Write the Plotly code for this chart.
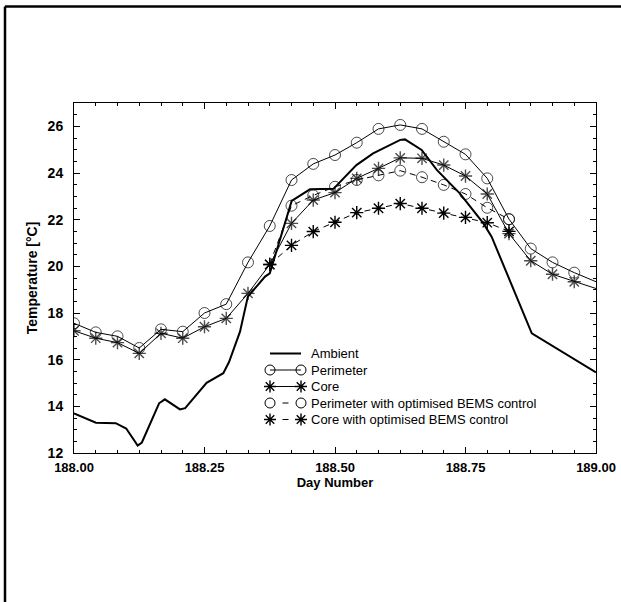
import plotly.graph_objects as go

# ---- data ----
hours = list(range(24))
day_markers = [188 + h / 24 for h in hours]
day_end = 189.0

perimeter = [17.56, 17.17, 17.00, 16.50, 17.30, 17.20, 18.00, 18.38, 20.17, 21.73,
             23.70, 24.39, 24.77, 25.30, 25.89, 26.06, 25.89, 25.34, 24.80, 23.77,
             22.02, 20.76, 20.17, 19.73]
perimeter_end = 19.34

core = [17.24, 16.92, 16.73, 16.27, 17.13, 16.92, 17.41, 17.77, 18.84, 20.08,
        21.84, 22.84, 23.16, 23.77, 24.20, 24.65, 24.63, 24.34, 23.87, 23.10,
        21.40, 20.24, 19.66, 19.34]
core_end = 19.05

opt_hours = list(range(9, 21))
perimeter_opt = [20.10, 22.60, 23.04, 23.41, 23.70, 23.90, 24.10, 23.82, 23.49, 23.10,
                 22.51, 22.02]
core_opt = [20.08, 20.90, 21.49, 21.89, 22.30, 22.49, 22.69, 22.49, 22.28, 22.10,
            21.87, 21.50]

ambient_day = [188.000, 188.042, 188.080, 188.100, 188.122, 188.130, 188.163, 188.174,
               188.203, 188.213, 188.254, 188.286, 188.297, 188.318, 188.333, 188.366,
               188.375, 188.417, 188.452, 188.497, 188.541, 188.573, 188.625, 188.634,
               188.666, 188.695, 188.739, 188.784, 188.800, 188.842, 188.877, 189.000]
ambient = [13.70, 13.30, 13.28, 13.05, 12.32, 12.45, 14.13, 14.30,
           13.87, 13.92, 15.01, 15.42, 15.90, 17.20, 18.70, 19.56,
           19.70, 22.80, 23.30, 23.32, 24.34, 24.84, 25.42, 25.44,
           24.99, 24.13, 23.13, 21.85, 21.27, 18.99, 17.13, 15.45]

series_names = ["Ambient", "Perimeter", "Core",
                "Perimeter with optimised BEMS control",
                "Core with optimised BEMS control"]

x_ticks = [188.00, 188.25, 188.50, 188.75, 189.00]
y_ticks = [12, 14, 16, 18, 20, 22, 24, 26]

# ---- layout geometry (pixels) ----
FONT = "Liberation Sans, Arial, Helvetica, sans-serif"
W, H = 621, 602
L, R, T, B = 74, 25, 103, 149
pw, ph = W - L - R, H - T - B
def px(xp): return (xp - L) / pw
def py(yp): return (H - B - yp) / ph

MS = 11
STAR_W = 1.4
fig = go.Figure()

fig.add_trace(go.Scatter(
    x=ambient_day, y=ambient, mode="lines", name=series_names[0],
    line=dict(color="black", width=2), showlegend=False))

full_x = day_markers + [day_end]
end_sizes = [MS] * 24 + [0]

fig.add_trace(go.Scatter(
    x=full_x, y=perimeter + [perimeter_end], mode="lines+markers", name=series_names[1],
    line=dict(color="black", width=1), showlegend=False,
    marker=dict(symbol="circle-open", size=end_sizes, color="black", line=dict(width=1))))

fig.add_trace(go.Scatter(
    x=full_x, y=core + [core_end], mode="lines+markers", name=series_names[2],
    line=dict(color="black", width=1), showlegend=False,
    marker=dict(symbol="asterisk-open", size=end_sizes, color="black", line=dict(width=STAR_W))))

opt_x = [188 + h / 24 for h in opt_hours]
opt_sizes = [0] + [MS] * (len(opt_hours) - 1)

fig.add_trace(go.Scatter(
    x=opt_x, y=perimeter_opt, mode="lines+markers", name=series_names[3],
    line=dict(color="black", width=1, dash="6px,5px"), showlegend=False,
    marker=dict(symbol="circle-open", size=opt_sizes, color="black", line=dict(width=1))))

fig.add_trace(go.Scatter(
    x=opt_x, y=core_opt, mode="lines+markers", name=series_names[4],
    line=dict(color="black", width=1, dash="6px,5px"), showlegend=False,
    marker=dict(symbol="asterisk-open", size=MS, color="black", line=dict(width=STAR_W))))

# ---- custom legend (drawn in pixel space on an overlay axis) ----
leg_rows = [353.5, 370, 386.5, 403, 419.5]
lx0, lx1, ltext = 270, 301, 309
leg_styles = [
    dict(sym=None, dash="solid", w=2),
    dict(sym="circle-open", dash="solid", w=1),
    dict(sym="asterisk-open", dash="solid", w=1),
    dict(sym="circle-open", dash="dash", w=1),
    dict(sym="asterisk-open", dash="dash", w=1),
]
for name, yrow, st in zip(series_names, leg_rows, leg_styles):
    if st["dash"] == "solid":
        fig.add_trace(go.Scatter(
            x=[lx0, lx1], y=[yrow, yrow], mode="lines", xaxis="x2", yaxis="y2",
            line=dict(color="black", width=st["w"]), showlegend=False, hoverinfo="skip"))
    else:
        mid = (lx0 + lx1) / 2
        fig.add_trace(go.Scatter(
            x=[mid - 3, mid + 3], y=[yrow, yrow], mode="lines", xaxis="x2", yaxis="y2",
            line=dict(color="black", width=st["w"]), showlegend=False, hoverinfo="skip"))
    if st["sym"]:
        mw = STAR_W if st["sym"].startswith("asterisk") else 1
        fig.add_trace(go.Scatter(
            x=[lx0, lx1], y=[yrow, yrow], mode="markers", xaxis="x2", yaxis="y2",
            marker=dict(symbol=st["sym"], size=MS - 1, color="black", line=dict(width=mw)),
            showlegend=False, hoverinfo="skip"))
    fig.add_annotation(x=px(ltext), y=py(yrow), xref="paper", yref="paper",
                       text=name, showarrow=False, xanchor="left", yanchor="middle",
                       font=dict(family=FONT, size=13, color="black"))

# page border (top and left)
fig.add_shape(type="line", xref="paper", yref="paper",
              x0=px(5), x1=px(W + 5), y0=py(6.5), y1=py(6.5),
              line=dict(color="black", width=2.5))
fig.add_shape(type="line", xref="paper", yref="paper",
              x0=px(5), x1=px(5), y0=py(6.5), y1=py(H + 5),
              line=dict(color="black", width=2.5))

axis_common = dict(
    showline=True, linecolor="black", linewidth=1, mirror="allticks",
    ticks="inside", ticklen=6, tickwidth=1, tickcolor="black",
    showgrid=False, zeroline=False,
)

fig.update_layout(
    xaxis=dict(
        range=[188, 189], tickvals=x_ticks, ticktext=[f"{v:.2f}" for v in x_ticks],
        minor=dict(ticks="inside", ticklen=3, dtick=1 / 24, tick0=188, tickcolor="black", showgrid=False),
        title=dict(text="Day Number", font=dict(family=FONT, size=13, color="black", weight="bold"),
                   standoff=2),
        tickfont=dict(family=FONT, size=13, color="black", weight="bold"),
        ticklabelstandoff=2, **axis_common),
    yaxis=dict(
        range=[12, 27], tickvals=y_ticks, ticktext=[str(v) for v in y_ticks],
        minor=dict(ticks="inside", ticklen=3, dtick=0.5, tick0=12, tickcolor="black", showgrid=False),
        title=dict(text="Temperature [°C]", font=dict(family=FONT, size=14, color="black", weight="bold"),
                   standoff=6),
        tickfont=dict(family=FONT, size=14, color="black", weight="bold"),
        ticklabelstandoff=7, **axis_common),
    xaxis2=dict(overlaying="x", range=[L, W - R], visible=False, fixedrange=True),
    yaxis2=dict(overlaying="y", range=[H - B, T], visible=False, fixedrange=True),
    width=W, height=H,
    margin=dict(l=L, r=R, t=T, b=B, autoexpand=False),
    paper_bgcolor="white", plot_bgcolor="white",
    showlegend=False,
)

fig.write_html("out.html", config={"displayModeBar": False},
               post_script="document.body.style.margin='0';")
